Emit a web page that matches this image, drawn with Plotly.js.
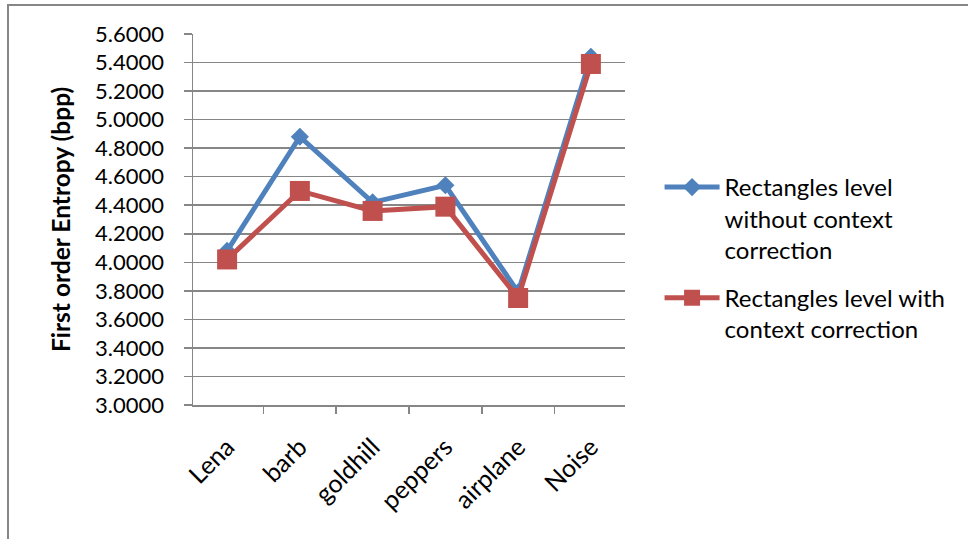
<!DOCTYPE html>
<html>
<head>
<meta charset="utf-8">
<script src="https://cdn.plot.ly/plotly-3.0.1.min.js"></script>
<style>
  html, body { margin: 0; padding: 0; background: #ffffff; }
  #wrap { position: relative; width: 968px; height: 539px; overflow: hidden; }
  #chart { width: 968px; height: 539px; }
  #frame {
    position: absolute; left: 7px; top: 4px; right: -4px; bottom: -4px;
    border-top: 2px solid #868686; border-left: 2px solid #868686;
    pointer-events: none;
  }
</style>
</head>
<body>
<div id="wrap">
  <div id="chart"></div>
  <div id="frame"></div>
</div>
<script>
// Test images
const images = ["Lena", "barb", "goldhill", "peppers", "airplane", "Noise"];

// First order entropy (bpp) per image
const withoutContext = [4.08, 4.88, 4.42, 4.54, 3.79, 5.44];
const withContext    = [4.02, 4.50, 4.36, 4.39, 3.75, 5.39];

const seriesNames = [
  "Rectangles level<br>without context<br>correction",
  "Rectangles level with<br>context correction"
];

const yTicks = [3.0, 3.2, 3.4, 3.6, 3.8, 4.0, 4.2, 4.4, 4.6, 4.8, 5.0, 5.2, 5.4, 5.6];

const FONT = "Lato, 'Open Sans', sans-serif";
const GRID = "#868686";

const traces = [
  {
    x: images, y: withoutContext, name: seriesNames[0], legendgroup: "g1",
    type: "scatter", mode: "lines+markers",
    line: { color: "#4F81BD", width: 5 },
    marker: { symbol: "diamond", size: 14, color: "#4F81BD" }
  },
  {
    x: images, y: withContext, name: seriesNames[1], legendgroup: "g2",
    type: "scatter", mode: "lines+markers",
    line: { color: "#C0504D", width: 5 },
    marker: { symbol: "square", size: 20, color: "#C0504D" }
  }
];

const layout = {
  width: 968, height: 539,
  margin: { l: 193, r: 343, t: 34, b: 134 },
  paper_bgcolor: "#ffffff", plot_bgcolor: "#ffffff",
  font: { family: FONT, size: 20, color: "#000000" },
  showlegend: true,
  legend: {
    x: 1.08, xanchor: "left", y: 0.647, yanchor: "top",
    valign: "top", itemwidth: 55, tracegroupgap: 14,
    font: { family: FONT, size: 24, color: "#000000" },
    bgcolor: "rgba(0,0,0,0)"
  },
  xaxis: {
    type: "category",
    tickangle: -45,
    showline: true, linecolor: GRID, linewidth: 1.5,
    showgrid: false, zeroline: false,
    ticks: "outside", tickson: "boundaries", ticklen: 7, tickcolor: GRID, tickwidth: 1.5,
    ticklabelstandoff: 16,
    tickfont: { family: FONT, size: 25, color: "#000000" }
  },
  yaxis: {
    range: [3.0, 5.6],
    tickvals: yTicks,
    tickformat: ".4f",
    showline: true, linecolor: GRID, linewidth: 1.5,
    showgrid: true, gridcolor: GRID, gridwidth: 1.5,
    zeroline: false,
    ticks: "outside", ticklen: 8, tickcolor: GRID, tickwidth: 1.5,
    ticklabelstandoff: 15,
    tickfont: { family: FONT, size: 22, color: "#000000" },
    title: {
      text: "<b>First order Entropy (bpp)</b>",
      font: { family: FONT, size: 24.5, color: "#000000" },
      standoff: 17
    }
  }
};

Plotly.newPlot("chart", traces, layout, { displayModeBar: false, staticPlot: true });
</script>
</body>
</html>
